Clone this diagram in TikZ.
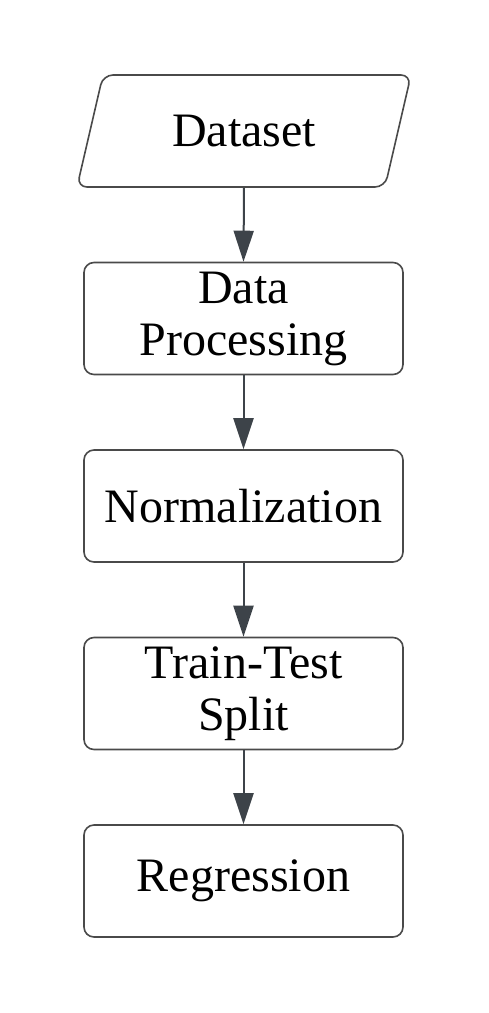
\documentclass[tikz,border=0pt]{standalone}
\usepackage{fontspec}
\setmainfont{Liberation Serif}
\usetikzlibrary{arrows.meta,positioning}
\definecolor{edgegray}{HTML}{3D4349}
\definecolor{boxgray}{HTML}{4A4A4A}
\tikzset{
  stepbox/.style={draw=boxgray,line width=1.6pt,rounded corners=10pt,fill=white,
    minimum width=319pt,minimum height=112pt,align=center,inner sep=0pt,
    font=\fontsize{48}{52}\selectfont},
  flow/.style={draw=edgegray,line width=2pt,-{Triangle[length=31pt,width=20pt]}}
}
\begin{document}
\begin{tikzpicture}[x=1pt,y=-1pt]
        \useasboundingbox (0,0) rectangle (488,1013);
        % the input parallelogram
        \draw[boxgray,line width=1.6pt,rounded corners=10pt,fill=white]
          (103,75) -- (411,75) -- (385,187) -- (77,187) -- cycle;
        \node[stepbox,draw=none,fill=none,minimum width=300pt] (dataset) at (244,131) {Dataset};
        % the processing steps
        \node[stepbox] (proc) at (243.5,318.5) {Data\\Processing};
        \node[stepbox] (norm) at (243.5,506) {Normalization};
        \node[stepbox] (split) at (243.5,693.5) {Train-Test\\Split};
        \node[stepbox] (regr) at (243.5,881) {Regression};
        % connectors
        \draw[flow] (dataset.south) -- (proc.north);
        \draw[flow] (proc) -- (norm);
        \draw[flow] (norm) -- (split);
        \draw[flow] (split) -- (regr);
\end{tikzpicture}
\end{document}
